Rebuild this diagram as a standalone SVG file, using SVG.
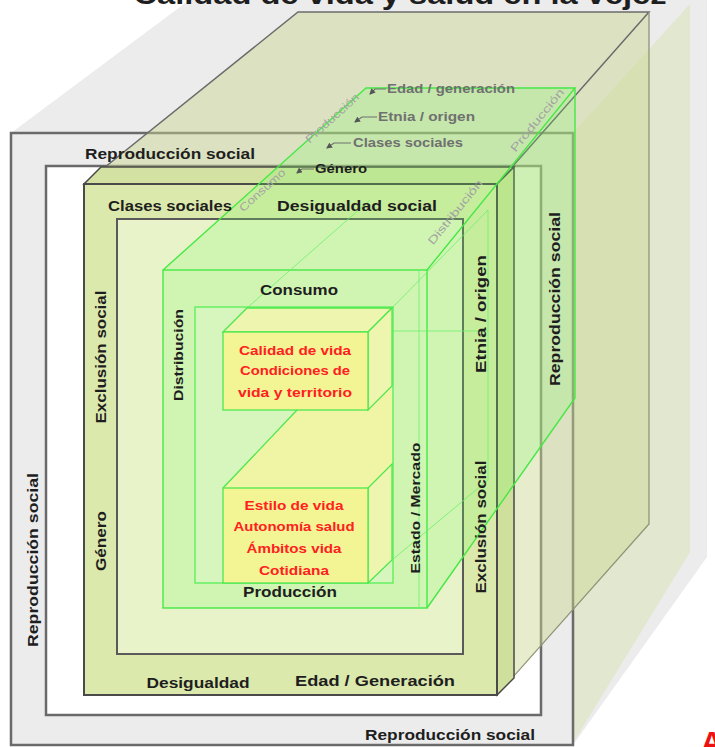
<svg xmlns="http://www.w3.org/2000/svg" width="715" height="747" viewBox="0 0 715 747">
<defs>
<style>
.t{font-family:"Liberation Sans",Arial,sans-serif;font-weight:bold;fill:#1e1e1e}
.m{text-anchor:middle}
.red{font-family:"Liberation Sans",Arial,sans-serif;font-weight:bold;fill:#ff2020;font-size:13px;text-anchor:middle}
.faint{font-family:"Liberation Sans",Arial,sans-serif;font-size:11px;fill:#a3a3a3;text-anchor:middle}
.grey{font-family:"Liberation Sans",Arial,sans-serif;font-weight:bold;font-size:12px;fill:#707070}
.frame{stroke:#6a6a6a;stroke-width:2.5}
.gl{fill:none;stroke:#45e845;stroke-width:1.4}
.glf{fill:none;stroke:#6cf06c;stroke-width:1;opacity:0.8}
.face{fill:#6dff5a;fill-opacity:0.2}
.olive{fill:#c9d88f;fill-opacity:0.45}
.yf{fill:#f3f594;stroke:#4ee84e;stroke-width:1.3}
.ys{fill:#eef5ae;stroke:#4ee84e;stroke-width:1.3}
.arr{fill:none;stroke:#707070;stroke-width:1.2}
</style>
<marker id="ah" viewBox="0 0 6 6" refX="5" refY="3" markerWidth="6" markerHeight="6" markerUnits="userSpaceOnUse" orient="auto">
<path d="M0,0 L6,3 L0,6 z" fill="#555"/>
</marker>
</defs>
<rect width="715" height="747" fill="#ffffff"/>

<g id="back-grey">
<polygon points="11,133 192,-2 707,-2 707,557 573,745" fill="#ececec"/>
<polygon points="573,133 690,4 690,552 573,743" fill="#e2e7d0"/>
</g>

<g id="title">
<text class="t m" x="400" y="4" font-size="28" textLength="533" lengthAdjust="spacingAndGlyphs" fill="#000">Calidad de vida y salud en la vejez</text>
</g>

<g id="reproduccion">
<rect x="11" y="133" width="562" height="612" fill="#ececec" class="frame"/>
<rect x="46" y="166" width="495" height="549" fill="#ffffff" class="frame"/>
</g>

<g id="olive-box">
<polygon class="olive" points="84,184 298,12 649,12 497,184"/>
<polygon class="olive" points="497,184 649,12 649,524 497,695"/>
<path d="M84,184 L298,12 L649,12 L497,184" fill="none" stroke="#6b6b6b" stroke-width="1.5"/>
<path d="M649,12 V524 L497,695" fill="none" stroke="#8f9478" stroke-width="1.3"/>
</g>

<g id="desigualdad-box">
<polygon points="84,184 101,167 514,167 497,184" fill="#d3e2a2" stroke="#4a4a4a" stroke-width="1.5"/>
<polygon points="497,184 514,167 514,678 497,695" fill="#cfe09c" stroke="#4a4a4a" stroke-width="1.5"/>
<rect x="84" y="184" width="413" height="511" fill="#dce9ad" stroke="#4a4a4a" stroke-width="2"/>
<rect x="117" y="219" width="346" height="435" fill="#e9f3c9" stroke="#5a5a5a" stroke-width="2"/>
</g>

<g id="mercado-box">
<polygon class="face" points="163,270 366,88 575,88 427,270"/>
<polygon class="face" points="427,270 575,88 575,398 427,608"/>
<rect class="face" x="163" y="270" width="264" height="338"/>
<path class="gl" d="M163,270 L366,88 H575 L427,270 M575,88 V398 L427,608"/>
<rect class="gl" x="163" y="270" width="264" height="338"/>
<line class="glf" x1="419" y1="270" x2="419" y2="608"/>
<line class="glf" x1="247" y1="308" x2="370" y2="200"/>
<line class="glf" x1="392" y1="308" x2="488" y2="210"/>
<line class="glf" x1="488" y1="210" x2="488" y2="480"/>
<line class="glf" x1="392" y1="560" x2="488" y2="480"/>
<line class="glf" x1="393" y1="331" x2="488" y2="331"/>
</g>

<g id="produccion-box">
<rect x="195" y="307" width="198" height="276" fill="#ffffff" fill-opacity="0.15" stroke="#55ee55" stroke-width="1.3"/>
</g>

<g id="calidad-box">
<polygon points="223,332 247,308 392,308 392,560 368,583 223,583 223,488 297,410 223,410" fill="#f0f5a6"/>
<polygon class="ys" points="223,332 247,308 392,308 368,332"/>
<polygon class="ys" points="368,332 392,308 392,386 368,410"/>
<rect class="yf" x="223" y="332" width="145" height="78"/>
</g>

<g id="estilo-box">
<path d="M223,488 L297,410" fill="none" stroke="#4ee84e" stroke-width="1.3"/>
<polygon class="ys" points="368,488 392,464 392,560 368,583"/>
<rect class="yf" x="223" y="488" width="145" height="95"/>
</g>

<g id="labels">
<text class="t m" x="170" y="159" font-size="15" textLength="170" lengthAdjust="spacingAndGlyphs">Reproducción social</text>
<text class="t m" transform="translate(33,560) rotate(-90)" x="0" y="5" font-size="15" textLength="174" lengthAdjust="spacingAndGlyphs">Reproducción social</text>
<text class="t m" x="450" y="740" font-size="15" textLength="170" lengthAdjust="spacingAndGlyphs">Reproducción social</text>
<text class="t m" transform="translate(555,299) rotate(-90)" x="0" y="5" font-size="15" textLength="174" lengthAdjust="spacingAndGlyphs">Reproducción social</text>

<text class="t m" x="170" y="211" font-size="14" textLength="124" lengthAdjust="spacingAndGlyphs">Clases sociales</text>
<text class="t m" x="357" y="211" font-size="14" textLength="160" lengthAdjust="spacingAndGlyphs">Desigualdad social</text>
<text class="t m" transform="translate(101,357) rotate(-90)" x="0" y="5" font-size="14" textLength="133" lengthAdjust="spacingAndGlyphs">Exclusión social</text>
<text class="t m" transform="translate(101,541) rotate(-90)" x="0" y="5" font-size="14" textLength="60" lengthAdjust="spacingAndGlyphs">Género</text>
<text class="t m" x="198" y="688" font-size="14" textLength="103" lengthAdjust="spacingAndGlyphs">Desigualdad</text>
<text class="t m" x="375" y="686" font-size="14" textLength="160" lengthAdjust="spacingAndGlyphs">Edad / Generación</text>
<text class="t m" transform="translate(481,314) rotate(-90)" x="0" y="5" font-size="14" textLength="118" lengthAdjust="spacingAndGlyphs">Etnia / origen</text>
<text class="t m" transform="translate(481,527) rotate(-90)" x="0" y="5" font-size="14" textLength="133" lengthAdjust="spacingAndGlyphs">Exclusión social</text>

<text class="t m" x="299" y="295" font-size="14" textLength="78" lengthAdjust="spacingAndGlyphs">Consumo</text>
<text class="t m" transform="translate(178,355) rotate(-90)" x="0" y="5" font-size="13" textLength="92" lengthAdjust="spacingAndGlyphs">Distribución</text>
<text class="t m" transform="translate(415,508) rotate(-90)" x="0" y="5" font-size="13" textLength="131" lengthAdjust="spacingAndGlyphs">Estado / Mercado</text>
<text class="t m" x="290" y="597" font-size="15" textLength="94" lengthAdjust="spacingAndGlyphs">Producción</text>

<text class="red" x="295" y="355" textLength="112" lengthAdjust="spacingAndGlyphs">Calidad de vida</text>
<text class="red" x="295" y="375" textLength="110" lengthAdjust="spacingAndGlyphs">Condiciones de</text>
<text class="red" x="295" y="397" textLength="114" lengthAdjust="spacingAndGlyphs">vida  y territorio</text>

<text class="red" x="294" y="510" textLength="99" lengthAdjust="spacingAndGlyphs">Estilo de vida</text>
<text class="red" x="294" y="531" textLength="121" lengthAdjust="spacingAndGlyphs">Autonomía salud</text>
<text class="red" x="294" y="553" textLength="95" lengthAdjust="spacingAndGlyphs">Ámbitos vida</text>
<text class="red" x="294" y="575" textLength="70" lengthAdjust="spacingAndGlyphs">Cotidiana</text>

<text class="grey" x="387" y="93" textLength="128" lengthAdjust="spacingAndGlyphs">Edad / generación</text>
<text class="grey" x="378" y="121" textLength="97" lengthAdjust="spacingAndGlyphs">Etnia / origen</text>
<text class="grey" x="353" y="147" textLength="110" lengthAdjust="spacingAndGlyphs">Clases sociales</text>
<text class="t" x="315" y="173" font-size="12" textLength="52" lengthAdjust="spacingAndGlyphs" fill="#333">Género</text>

<text class="faint" transform="translate(332,118) rotate(-42)" x="0" y="4" textLength="68" lengthAdjust="spacingAndGlyphs">Producción</text>
<text class="faint" transform="translate(262,190) rotate(-42)" x="0" y="4" textLength="58" lengthAdjust="spacingAndGlyphs">Consumo</text>
<text class="faint" transform="translate(455,212) rotate(-51)" x="0" y="4" textLength="80" lengthAdjust="spacingAndGlyphs">Distribución</text>
<text class="faint" transform="translate(537,120) rotate(-51)" x="0" y="4" textLength="78" lengthAdjust="spacingAndGlyphs">Producción</text>

<text x="701" y="752" font-family="'Liberation Sans',Arial,sans-serif" font-weight="bold" font-size="30" fill="#ee1111">A</text>
</g>

<g id="connectors">
<path class="arr" d="M386,89 H375 L370,94" marker-end="url(#ah)"/>
<path class="arr" d="M377,117 H362 L355,122" marker-end="url(#ah)"/>
<path class="arr" d="M351,143 H334 L327,148" marker-end="url(#ah)"/>
<path class="arr" d="M314,169 H302 L297,173" stroke="#333" marker-end="url(#ah)"/>
</g>
</svg>
